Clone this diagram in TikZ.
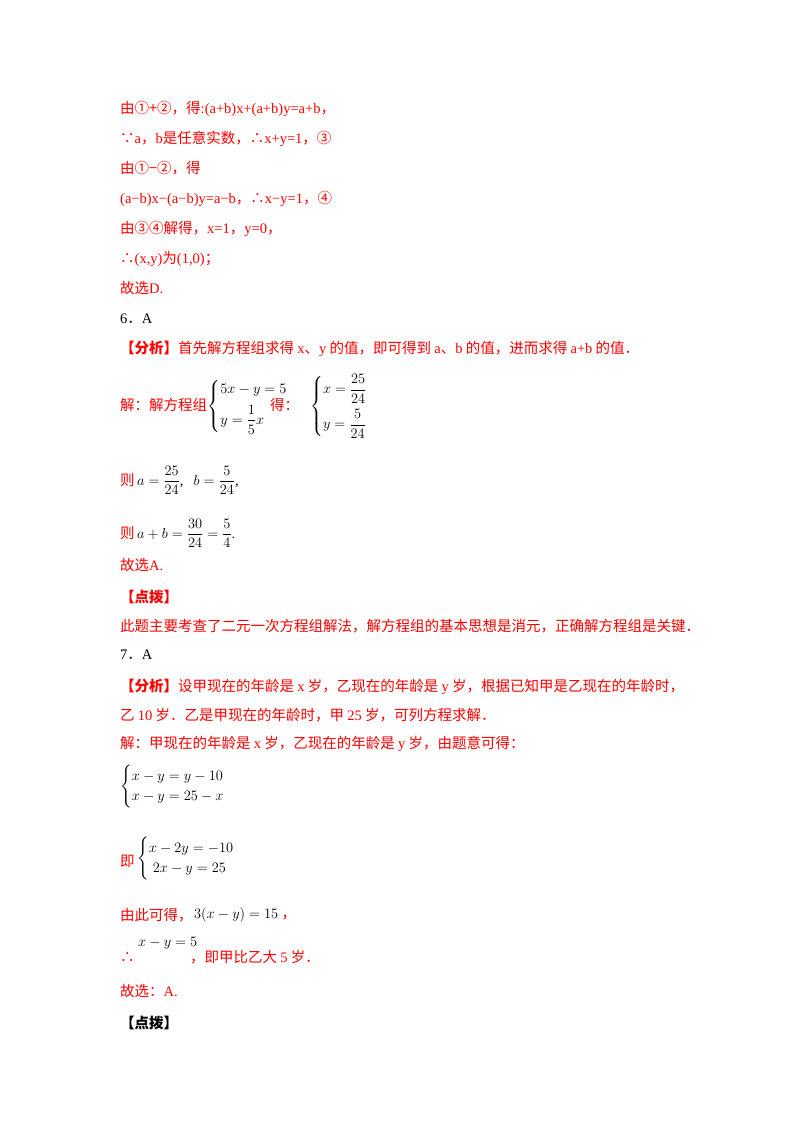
\documentclass[tikz,border=0pt]{standalone}
\usepackage{amsmath}
\usepackage{fontspec}
\setmainfont{Liberation Serif}
\newfontfamily\cjk{Noto Sans CJK SC}
\newcommand{\C}[1]{{\cjk #1}}
\begin{document}
\begin{tikzpicture}[x=1pt,y=-1pt,
  ln/.style={anchor=base west,inner sep=0pt,font=\fontsize{14.5}{17}\selectfont,text=red},
  bk/.style={ln,text=black},
  mth/.style={anchor=base west,inner sep=0pt,font=\fontsize{14.5}{17}\selectfont,text=black}]
\useasboundingbox[fill=white] (0,0) rectangle (800,1132);
\node[ln] (l1) at (120,113) {\C{由①+②，得}:(a+b)x+(a+b)y=a+b\C{，}};
\node[ln] (l2) at (120,143) {\C{∵}a\C{，}b\C{是任意实数，∴}x+y=1\C{，③}};
\node[ln] (l3) at (120,173) {\C{由①−②，得}};
\node[ln] (l4) at (120,203) {(a−b)x−(a−b)y=a−b\C{，∴}x−y=1\C{，④}};
\node[ln] (l5) at (120,233) {\C{由③④解得，}x=1\C{，}y=0\C{，}};
\node[ln] (l6) at (120,263) {\C{∴}(x,y)\C{为}(1,0)\C{；}};
\node[ln] (l7) at (120,293) {\C{故选}D.};
\node[bk] (l8) at (120,323) {6\C{．}A};
\node[ln] (l9) at (120,353) {\textbf{\C{【分析】}}\C{首先解方程组求得 }x\C{、}y\C{ 的值，即可得到 }a\C{、}b\C{ 的值，进而求得 }a+b\C{ 的值．}};
\node[ln] (l10) at (120,410) {\C{解：解方程组}};
\node[mth] (m1) at (l10.base east) {$\begin{cases}5x-y=5\\[6pt] y=\dfrac15x\end{cases}$};
\node[ln] (l10b) at (270,410) {\C{得：}};
\node[mth] (m2) at (310,410) {$\begin{cases}x=\dfrac{25}{24}\\[10pt] y=\dfrac{5}{24}\end{cases}$};
\node[ln] (l11) at (120,485) {\C{则}};
\node[mth] (m3) at ([xshift=2pt]l11.base east) {$a=\dfrac{25}{24}$,\;\, $b=\dfrac{5}{24}$,};
\node[ln] (l12) at (120,538) {\C{则}};
\node[mth] (m4) at ([xshift=2pt]l12.base east) {$a+b=\dfrac{30}{24}=\dfrac54$.};
\node[ln] (l13) at (120,570) {\C{故选}A.};
\node[ln] (l14) at (120,602) {\textbf{\C{【点拨】}}};
\node[ln] (l15) at (120,631) {\C{此题主要考查了二元一次方程组解法，解方程组的基本思想是消元，正确解方程组是关键．}};
\node[bk] (l16) at (120,659) {7\C{．}A};
\node[ln] (l17) at (120,691) {\textbf{\C{【分析】}}\C{设甲现在的年龄是 }x\C{ 岁，乙现在的年龄是 }y\C{ 岁，根据已知甲是乙现在的年龄时，}};
\node[ln] (l18) at (120,720) {\C{乙 }10\C{ 岁．乙是甲现在的年龄时，甲 }25\C{ 岁，可列方程求解．}};
\node[ln] (l19) at (120,748) {\C{解：甲现在的年龄是 }x\C{ 岁，乙现在的年龄是 }y\C{ 岁，由题意可得：}};
\node[mth] (m5) at (120,790) {$\begin{cases}x-y=y-10\\ x-y=25-x\end{cases}$};
\node[ln] (l20) at (120,866) {\C{即}};
\node[mth] (m6) at (137,862) {$\begin{cases}x-2y=-10\\ \;2x-y=25\end{cases}$};
\node[ln] (l21) at (120,920) {\C{由此可得，}};
\node[mth] (m7) at (194,918) {$3(x-y)=15$};
\node[ln] (l21b) at ([xshift=3pt]m7.base east) {\C{，}};
\node[ln] (l22) at (120,962) {\C{∴}};
\node[mth] (m8) at (138,946) {$x-y=5$};
\node[ln] (l22b) at (190,962) {\C{，即甲比乙大 }5\C{ 岁．}};
\node[ln] (l23) at (120,996) {\C{故选：}A.};
\node[bk] (l24) at (120,1028) {\textbf{\C{【点拨】}}};
\end{tikzpicture}
\end{document}
